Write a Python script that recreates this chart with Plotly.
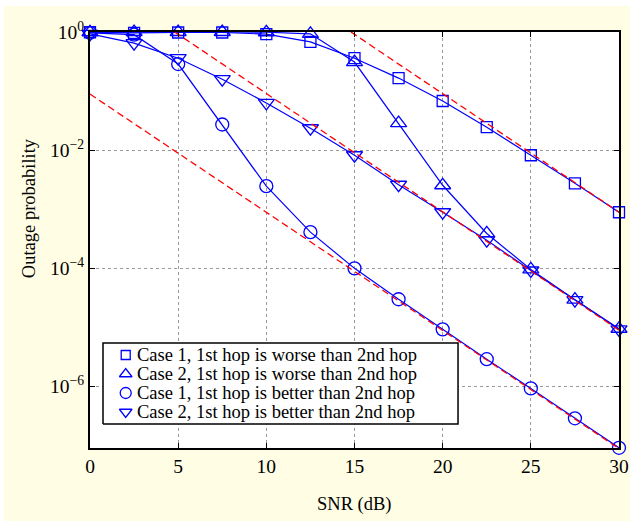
import plotly.graph_objects as go

snr = [0, 2.5, 5, 7.5, 10, 12.5, 15, 17.5, 20, 22.5, 25, 27.5, 30]

case1_worse = [0.99, 0.97, 0.98, 0.98, 0.92, 0.68, 0.36, 0.166, 0.068, 0.0245, 0.0082, 0.00275, 0.00089]
case2_worse = [0.99, 1.0, 1.0, 1.0, 0.99, 0.93, 0.31, 0.0288, 0.00255, 3.9e-4, 9.6e-5, 2.95e-5, 9.5e-6]
case1_better = [0.97, 0.9, 0.287, 0.0272, 0.00246, 4.1e-4, 1.0e-4, 3.0e-5, 9.3e-6, 2.9e-6, 9.3e-7, 2.9e-7, 9.2e-8]
case2_better = [0.93, 0.65, 0.36, 0.159, 0.063, 0.0235, 0.0082, 0.0026, 8.9e-4, 3.0e-4, 9.2e-5, 2.9e-5, 9.3e-6]

asym_a_x = [0, 30]
asym_a_y = [0.089, 8.9e-8]
asym_b_x = [4.8, 30]
asym_b_y = [1.0, 9.0e-6]
asym_c_x = [14.8, 30]
asym_c_y = [1.0, 8.9e-4]

names = [
    "Case 1, 1st hop is worse than 2nd hop",
    "Case 2, 1st hop is worse than 2nd hop",
    "Case 1, 1st hop is better than 2nd hop",
    "Case 2, 1st hop is better than 2nd hop",
]
series = [case1_worse, case2_worse, case1_better, case2_better]
symbols = ["square-open", "triangle-up-open", "circle-open", "triangle-down-open"]
sizes = [11, 14, 13, 14]
legend_sizes = [9, 11, 11, 11]

ytick_vals = [1, 1e-2, 1e-4, 1e-6]
ytick_text = ["10<sup>0</sup>", "10<sup>\u22122</sup>", "10<sup>\u22124</sup>", "10<sup>\u22126</sup>"]
xtick_vals = [0, 5, 10, 15, 20, 25, 30]

x_title = "SNR (dB)"
y_title = "Outage probability"

BLUE = "#0000FF"
RED = "#FF0000"
FONT = "Liberation Serif"
PAPER = "#FFFDE4"

# legend placement (fractions of the plot area)
LEG_X0, LEG_X1, LEG_Y0, LEG_Y1 = 0.0246, 0.6957, 0.0577, 0.2524
LEG_ROWS = [0.2236, 0.1779, 0.1322, 0.0865]
LEG_MARK_X = 0.0675
LEG_TEXT_X = 0.087

fig = go.Figure()

for ys, sym, sz in zip(series, symbols, sizes):
    fig.add_trace(go.Scatter(
        x=snr, y=ys, mode="lines+markers",
        line=dict(color=BLUE, width=1.2),
        marker=dict(symbol=sym, size=sz, color=BLUE, line=dict(width=1.3, color=BLUE)),
        showlegend=False, cliponaxis=False,
    ))

for ax, ay in [(asym_a_x, asym_a_y), (asym_b_x, asym_b_y), (asym_c_x, asym_c_y)]:
    fig.add_trace(go.Scatter(
        x=ax, y=ay, mode="lines",
        line=dict(color=RED, width=1.3, dash="7px,4px"),
        showlegend=False,
    ))

# legend box on an overlay axis
fig.add_trace(go.Scatter(
    x=[LEG_X0, LEG_X1, LEG_X1, LEG_X0, LEG_X0],
    y=[LEG_Y0, LEG_Y0, LEG_Y1, LEG_Y1, LEG_Y0],
    mode="lines", fill="toself", fillcolor="white",
    line=dict(color="black", width=1.5),
    xaxis="x2", yaxis="y2", showlegend=False, hoverinfo="skip",
))
for yy, sym, sz in zip(LEG_ROWS, symbols, legend_sizes):
    fig.add_trace(go.Scatter(
        x=[LEG_MARK_X], y=[yy], mode="markers",
        marker=dict(symbol=sym, size=sz, color=BLUE, line=dict(width=1.3, color=BLUE)),
        xaxis="x2", yaxis="y2", showlegend=False, hoverinfo="skip",
    ))

annotations = [
    dict(text=name, xref="paper", yref="paper", x=LEG_TEXT_X, y=yy,
         xanchor="left", yanchor="middle", showarrow=False, borderpad=0,
         font=dict(family=FONT, size=18.5, color="black"))
    for name, yy in zip(names, LEG_ROWS)
]
annotations.append(dict(
    text=x_title, xref="paper", yref="paper", x=0.5, y=-0.136,
    xanchor="center", yanchor="middle", showarrow=False,
    font=dict(family=FONT, size=18.5, color="black"),
))
annotations.append(dict(
    text=y_title, xref="paper", yref="paper", x=-0.115, y=0.577, textangle=-90,
    xanchor="center", yanchor="middle", showarrow=False,
    font=dict(family=FONT, size=18.5, color="black"),
))

axis_common = dict(
    showline=True, linecolor="black", linewidth=2, mirror="ticks",
    ticks="inside", ticklen=5, tickwidth=1, tickcolor="black",
    showgrid=True, gridcolor="#9a9a9a", gridwidth=1, griddash="dot",
    zeroline=False, tickfont=dict(family=FONT, size=19.5, color="black"),
)

fig.update_xaxes(range=[0, 30], tickvals=xtick_vals, **axis_common)
fig.update_yaxes(type="log", range=[-7.04, 0], tickvals=ytick_vals, ticktext=ytick_text, **axis_common)

fig.update_layout(
    width=626, height=515,
    margin=dict(l=86, r=11, t=26, b=73, autoexpand=False),
    paper_bgcolor=PAPER, plot_bgcolor="white",
    font=dict(family=FONT, size=19, color="black"),
    showlegend=False,
    xaxis2=dict(overlaying="x", range=[0, 1], visible=False, fixedrange=True),
    yaxis2=dict(overlaying="y", range=[0, 1], visible=False, fixedrange=True),
    annotations=annotations,
)

fig.write_html("out.html", post_script="document.body.style.margin='6px 0 0 4px';")
